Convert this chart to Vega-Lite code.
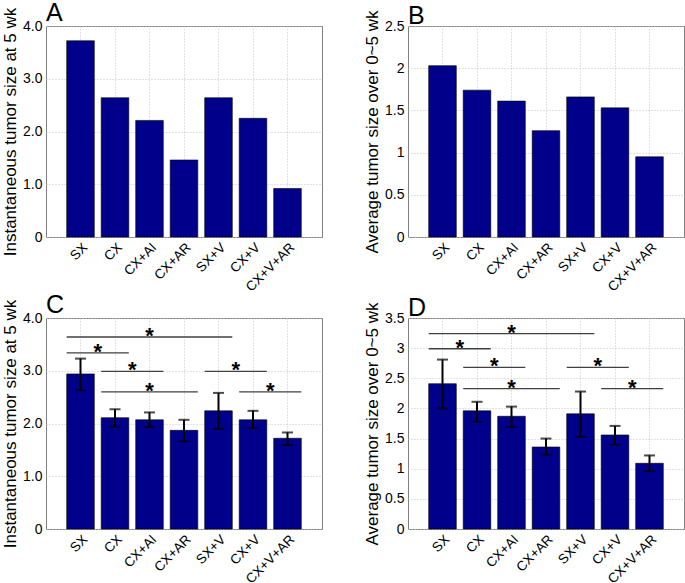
{
  "$schema": "https://vega.github.io/schema/vega-lite/v6.json",
  "padding": {"left": 1, "top": 0, "right": 0, "bottom": 0},
  "background": "white",
  "bounds": "flush",
  "columns": 2,
  "spacing": {"row": 81, "column": 86},
  "datasets": {
    "A": [
      {"g": "SX", "v": 3.72}, {"g": "CX", "v": 2.64}, {"g": "CX+AI", "v": 2.21}, {"g": "CX+AR", "v": 1.46},
      {"g": "SX+V", "v": 2.64}, {"g": "CX+V", "v": 2.25}, {"g": "CX+V+AR", "v": 0.92}
    ],
    "B": [
      {"g": "SX", "v": 2.03}, {"g": "CX", "v": 1.74}, {"g": "CX+AI", "v": 1.61}, {"g": "CX+AR", "v": 1.26},
      {"g": "SX+V", "v": 1.66}, {"g": "CX+V", "v": 1.53}, {"g": "CX+V+AR", "v": 0.95}
    ],
    "C": [
      {"g": "SX", "v": 2.94, "lo": 2.63, "hi": 3.23}, {"g": "CX", "v": 2.11, "lo": 1.94, "hi": 2.27},
      {"g": "CX+AI", "v": 2.07, "lo": 1.93, "hi": 2.21}, {"g": "CX+AR", "v": 1.87, "lo": 1.66, "hi": 2.07},
      {"g": "SX+V", "v": 2.24, "lo": 1.90, "hi": 2.58}, {"g": "CX+V", "v": 2.07, "lo": 1.91, "hi": 2.24},
      {"g": "CX+V+AR", "v": 1.72, "lo": 1.59, "hi": 1.83}
    ],
    "D": [
      {"g": "SX", "v": 2.41, "lo": 2.0, "hi": 2.81}, {"g": "CX", "v": 1.96, "lo": 1.78, "hi": 2.11},
      {"g": "CX+AI", "v": 1.87, "lo": 1.69, "hi": 2.03}, {"g": "CX+AR", "v": 1.36, "lo": 1.23, "hi": 1.50},
      {"g": "SX+V", "v": 1.91, "lo": 1.53, "hi": 2.28}, {"g": "CX+V", "v": 1.56, "lo": 1.40, "hi": 1.71},
      {"g": "CX+V+AR", "v": 1.09, "lo": 0.96, "hi": 1.22}
    ],
    "sigC": [
      {"a": "SX", "b": "SX+V", "h": 3.64, "m": "CX+AI", "half": false}, {"a": "SX", "b": "CX", "h": 3.34, "m": "SX", "half": true},
      {"a": "CX", "b": "CX+AI", "h": 2.99, "m": "CX", "half": true}, {"a": "CX", "b": "CX+AR", "h": 2.60, "m": "CX+AI", "half": false},
      {"a": "SX+V", "b": "CX+V", "h": 2.99, "m": "SX+V", "half": true}, {"a": "CX+V", "b": "CX+V+AR", "h": 2.60, "m": "CX+V", "half": true}
    ],
    "sigD": [
      {"a": "SX", "b": "SX+V", "h": 3.24, "m": "CX+AI", "half": false}, {"a": "SX", "b": "CX", "h": 2.99, "m": "SX", "half": true},
      {"a": "CX", "b": "CX+AI", "h": 2.68, "m": "CX", "half": true}, {"a": "CX", "b": "CX+AR", "h": 2.33, "m": "CX+AI", "half": false},
      {"a": "SX+V", "b": "CX+V", "h": 2.68, "m": "SX+V", "half": true}, {"a": "CX+V", "b": "CX+V+AR", "h": 2.33, "m": "CX+V", "half": true}
    ]
  },
  "config": {
    "font": "Liberation Sans",
    "view": {"stroke": "#808080", "strokeWidth": 1},
    "axis": {
      "domain": false, "ticks": false,
      "gridColor": "#c4c4c4", "gridDash": [1, 2], "gridWidth": 1,
      "labelFont": "Liberation Sans", "labelColor": "#000000",
      "titleFont": "Liberation Sans", "titleFontWeight": "normal", "titleColor": "#000000"
    },
    "axisX": {"labelAngle": -45, "labelFontSize": 13.5, "labelPadding": 3, "grid": true, "bandPosition": 0.5, "title": null},
    "axisY": {"labelFontSize": 14, "labelPadding": 4, "titleFontSize": 17, "titlePadding": 3},
    "title": {"fontSize": 25, "fontWeight": "normal", "anchor": "start", "frame": "group", "baseline": "alphabetic", "offset": -19, "color": "#000000", "font": "Liberation Sans"},
    "bar": {"color": "#00008b", "stroke": "#000000", "strokeWidth": 0.6}
  },
  "concat": [
    {
      "title": "A",
      "width": 276, "height": 211,
      "data": {"name": "A"},
      "mark": "bar",
      "encoding": {
        "x": {"field": "g", "type": "nominal", "sort": null,
              "scale": {"domain": ["SX", "CX", "CX+AI", "CX+AR", "SX+V", "CX+V", "CX+V+AR"], "paddingInner": 0.2, "paddingOuter": 0.6}},
        "y": {"field": "v", "type": "quantitative", "scale": {"domain": [0, 4.00001], "nice": false},
              "axis": {"values": [0, 1, 2, 3, 4], "labelExpr": "datum.value == 0 ? '0' : format(datum.value, '.1f')", "title": "Instantaneous tumor size at 5 wk"}}
      }
    },
    {
      "title": "B",
      "width": 276, "height": 211,
      "data": {"name": "B"},
      "mark": "bar",
      "encoding": {
        "x": {"field": "g", "type": "nominal", "sort": null,
              "scale": {"domain": ["SX", "CX", "CX+AI", "CX+AR", "SX+V", "CX+V", "CX+V+AR"], "paddingInner": 0.2, "paddingOuter": 0.6}},
        "y": {"field": "v", "type": "quantitative", "scale": {"domain": [0, 2.50001], "nice": false},
              "axis": {"values": [0, 0.5, 1, 1.5, 2, 2.5], "labelExpr": "'' + datum.value", "title": "Average tumor size over 0~5 wk"}}
      }
    },
    {
      "title": "C",
      "width": 276, "height": 211,
      "layer": [
        {
          "data": {"name": "C"},
          "mark": "bar",
          "encoding": {
            "x": {"field": "g", "type": "nominal", "sort": null,
                  "scale": {"domain": ["SX", "CX", "CX+AI", "CX+AR", "SX+V", "CX+V", "CX+V+AR"], "paddingInner": 0.2, "paddingOuter": 0.6}},
            "y": {"field": "v", "type": "quantitative", "scale": {"domain": [0, 4.00001], "nice": false},
                  "axis": {"values": [0, 1, 2, 3, 4], "labelExpr": "datum.value == 0 ? '0' : format(datum.value, '.1f')", "title": "Instantaneous tumor size at 5 wk"}}
          }
        },
        {
          "data": {"name": "C"},
          "mark": {"type": "rule", "color": "#000000", "strokeWidth": 2},
          "encoding": {
            "x": {"field": "g", "type": "nominal", "sort": null},
            "y": {"field": "lo", "type": "quantitative", "axis": {"values": [0, 1, 2, 3, 4], "labelExpr": "datum.value == 0 ? '0' : format(datum.value, '.1f')", "title": "Instantaneous tumor size at 5 wk"}},
            "y2": {"field": "hi"}
          }
        },
        {
          "data": {"name": "C"},
          "mark": {"type": "tick", "color": "#000000", "thickness": 2, "size": 11},
          "encoding": {
            "x": {"field": "g", "type": "nominal", "sort": null},
            "y": {"field": "lo", "type": "quantitative", "axis": {"values": [0, 1, 2, 3, 4], "labelExpr": "datum.value == 0 ? '0' : format(datum.value, '.1f')", "title": "Instantaneous tumor size at 5 wk"}}
          }
        },
        {
          "data": {"name": "C"},
          "mark": {"type": "tick", "color": "#000000", "thickness": 2, "size": 11},
          "encoding": {
            "x": {"field": "g", "type": "nominal", "sort": null},
            "y": {"field": "hi", "type": "quantitative", "axis": {"values": [0, 1, 2, 3, 4], "labelExpr": "datum.value == 0 ? '0' : format(datum.value, '.1f')", "title": "Instantaneous tumor size at 5 wk"}}
          }
        },
        {
          "data": {"name": "sigC"},
          "mark": {"type": "rule", "color": "#404040", "strokeWidth": 1.3},
          "encoding": {
            "x": {"field": "a", "type": "nominal", "bandPosition": 0},
            "x2": {"field": "b", "bandPosition": 1},
            "y": {"field": "h", "type": "quantitative", "axis": {"values": [0, 1, 2, 3, 4], "labelExpr": "datum.value == 0 ? '0' : format(datum.value, '.1f')", "title": "Instantaneous tumor size at 5 wk"}}
          }
        },
        {
          "data": {"name": "sigC"},
          "transform": [{"filter": "!datum.half"}],
          "mark": {"type": "text", "text": "*", "fontSize": 22, "fontWeight": "bold", "baseline": "alphabetic", "align": "center", "dy": 6, "color": "#000000"},
          "encoding": {
            "x": {"field": "m", "type": "nominal", "bandPosition": 0.5},
            "y": {"field": "h", "type": "quantitative", "axis": {"values": [0, 1, 2, 3, 4], "labelExpr": "datum.value == 0 ? '0' : format(datum.value, '.1f')", "title": "Instantaneous tumor size at 5 wk"}}
          }
        },
        {
          "data": {"name": "sigC"},
          "transform": [{"filter": "datum.half"}],
          "mark": {"type": "text", "text": "*", "fontSize": 22, "fontWeight": "bold", "baseline": "alphabetic", "align": "center", "dy": 6, "color": "#000000"},
          "encoding": {
            "x": {"field": "m", "type": "nominal", "bandPosition": 1.125},
            "y": {"field": "h", "type": "quantitative", "axis": {"values": [0, 1, 2, 3, 4], "labelExpr": "datum.value == 0 ? '0' : format(datum.value, '.1f')", "title": "Instantaneous tumor size at 5 wk"}}
          }
        }
      ]
    },
    {
      "title": "D",
      "width": 276, "height": 211,
      "layer": [
        {
          "data": {"name": "D"},
          "mark": "bar",
          "encoding": {
            "x": {"field": "g", "type": "nominal", "sort": null,
                  "scale": {"domain": ["SX", "CX", "CX+AI", "CX+AR", "SX+V", "CX+V", "CX+V+AR"], "paddingInner": 0.2, "paddingOuter": 0.6}},
            "y": {"field": "v", "type": "quantitative", "scale": {"domain": [0, 3.50001], "nice": false},
                  "axis": {"values": [0, 0.5, 1, 1.5, 2, 2.5, 3, 3.5], "labelExpr": "'' + datum.value", "title": "Average tumor size over 0~5 wk"}}
          }
        },
        {
          "data": {"name": "D"},
          "mark": {"type": "rule", "color": "#000000", "strokeWidth": 2},
          "encoding": {
            "x": {"field": "g", "type": "nominal", "sort": null},
            "y": {"field": "lo", "type": "quantitative", "axis": {"values": [0, 0.5, 1, 1.5, 2, 2.5, 3, 3.5], "labelExpr": "'' + datum.value", "title": "Average tumor size over 0~5 wk"}},
            "y2": {"field": "hi"}
          }
        },
        {
          "data": {"name": "D"},
          "mark": {"type": "tick", "color": "#000000", "thickness": 2, "size": 11},
          "encoding": {
            "x": {"field": "g", "type": "nominal", "sort": null},
            "y": {"field": "lo", "type": "quantitative", "axis": {"values": [0, 0.5, 1, 1.5, 2, 2.5, 3, 3.5], "labelExpr": "'' + datum.value", "title": "Average tumor size over 0~5 wk"}}
          }
        },
        {
          "data": {"name": "D"},
          "mark": {"type": "tick", "color": "#000000", "thickness": 2, "size": 11},
          "encoding": {
            "x": {"field": "g", "type": "nominal", "sort": null},
            "y": {"field": "hi", "type": "quantitative", "axis": {"values": [0, 0.5, 1, 1.5, 2, 2.5, 3, 3.5], "labelExpr": "'' + datum.value", "title": "Average tumor size over 0~5 wk"}}
          }
        },
        {
          "data": {"name": "sigD"},
          "mark": {"type": "rule", "color": "#404040", "strokeWidth": 1.3},
          "encoding": {
            "x": {"field": "a", "type": "nominal", "bandPosition": 0},
            "x2": {"field": "b", "bandPosition": 1},
            "y": {"field": "h", "type": "quantitative", "axis": {"values": [0, 0.5, 1, 1.5, 2, 2.5, 3, 3.5], "labelExpr": "'' + datum.value", "title": "Average tumor size over 0~5 wk"}}
          }
        },
        {
          "data": {"name": "sigD"},
          "transform": [{"filter": "!datum.half"}],
          "mark": {"type": "text", "text": "*", "fontSize": 22, "fontWeight": "bold", "baseline": "alphabetic", "align": "center", "dy": 6, "color": "#000000"},
          "encoding": {
            "x": {"field": "m", "type": "nominal", "bandPosition": 0.5},
            "y": {"field": "h", "type": "quantitative", "axis": {"values": [0, 0.5, 1, 1.5, 2, 2.5, 3, 3.5], "labelExpr": "'' + datum.value", "title": "Average tumor size over 0~5 wk"}}
          }
        },
        {
          "data": {"name": "sigD"},
          "transform": [{"filter": "datum.half"}],
          "mark": {"type": "text", "text": "*", "fontSize": 22, "fontWeight": "bold", "baseline": "alphabetic", "align": "center", "dy": 6, "color": "#000000"},
          "encoding": {
            "x": {"field": "m", "type": "nominal", "bandPosition": 1.125},
            "y": {"field": "h", "type": "quantitative", "axis": {"values": [0, 0.5, 1, 1.5, 2, 2.5, 3, 3.5], "labelExpr": "'' + datum.value", "title": "Average tumor size over 0~5 wk"}}
          }
        }
      ]
    }
  ]
}
